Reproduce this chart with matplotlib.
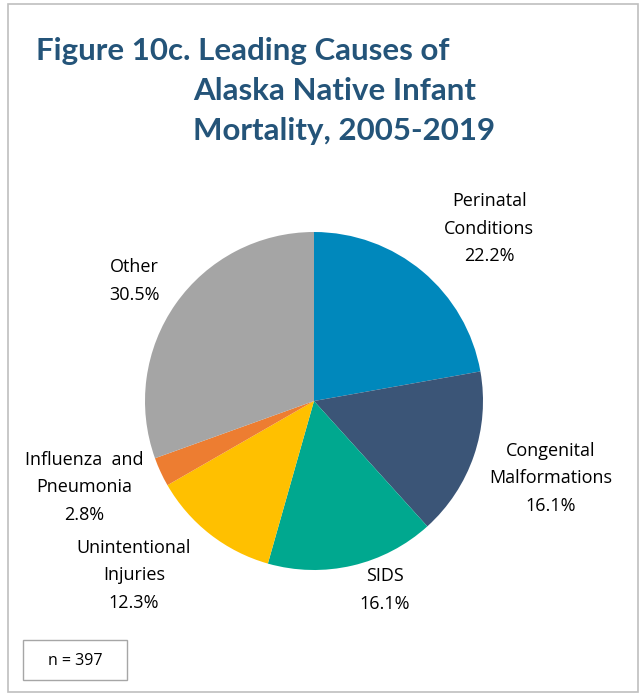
import matplotlib
matplotlib.use("Agg")
import matplotlib.pyplot as plt
from matplotlib.patches import Rectangle

# ---- data ----
categories = ["Perinatal\nConditions", "Congenital\nMalformations", "SIDS",
              "Unintentional\nInjuries", "Influenza  and\nPneumonia", "Other"]
values = [22.2, 16.1, 16.1, 12.3, 2.8, 30.5]
n_total = 397
title_lines = ["Figure 10c. Leading Causes of", "Alaska Native Infant", "Mortality, 2005-2019"]

# ---- style ----
colors = ["#0088BC", "#3B5577", "#00A88F", "#FFC000", "#ED7D31", "#A5A5A5"]
label_offsets = [(1.036, 1.018), (1.402, -0.456), (0.420, -1.118),
                 (-1.065, -1.030), (-1.361, -0.509), (-1.065, 0.710)]
W, H = 641, 694
cx, cy, R = 314, 401, 169  # pixel centre / radius

fig = plt.figure(figsize=(W / 100, H / 100), dpi=100)
ax = fig.add_axes([0, 0, 1, 1])
ax.axis("off")

ax.pie(values, colors=colors, startangle=90, counterclock=False, radius=1,
       center=(0, 0), frame=False)
ax.set_xlim(-cx / R, (W - cx) / R)
ax.set_ylim(-(H - cy) / R, cy / R)
ax.set_aspect("auto")

for cat, v, (dx, dy) in zip(categories, values, label_offsets):
    ax.text(dx, dy, f"{cat}\n{v:.1f}%", ha="center", va="center",
            fontsize=13, family="Open Sans", color="#000000", linespacing=1.68)

# outer frame
fig.patches.append(Rectangle((8 / W, 1 - 692 / H), (638 - 8) / W, (692 - 4) / H,
                             transform=fig.transFigure, fill=False,
                             edgecolor="#BFBFBF", linewidth=1.2))
# n box
fig.patches.append(Rectangle((23 / W, 1 - 680 / H), (127 - 23) / W, (680 - 640) / H,
                             transform=fig.transFigure, fill=False,
                             edgecolor="#A6A6A6", linewidth=1.0))
fig.text(75 / W, 1 - 661 / H, f"n = {n_total}", ha="center", va="center",
         fontsize=11.5, family="Open Sans", color="#000000")

# title
title_kw = dict(fontsize=22.5, family="Lato", fontweight="bold", color="#245479",
                va="baseline", ha="left")
fig.text(36 / W, 1 - 60 / H, title_lines[0], **title_kw)
fig.text(193 / W, 1 - 100 / H, title_lines[1], **title_kw)
fig.text(193 / W, 1 - 140 / H, title_lines[2], **title_kw)

fig.savefig("out.png", dpi=100)
